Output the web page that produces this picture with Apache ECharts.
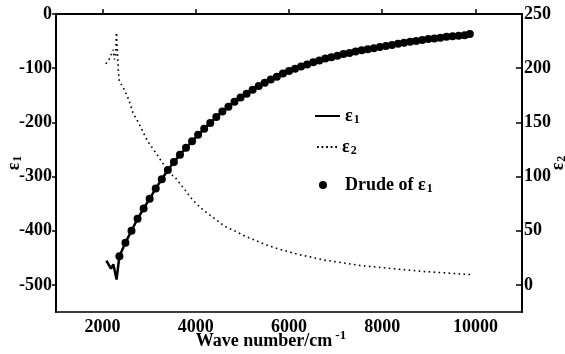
<!DOCTYPE html>
<html><head><meta charset="utf-8">
<script src="https://cdn.jsdelivr.net/npm/echarts@6/dist/echarts.min.js"></script>
<style>html,body{margin:0;padding:0;background:#fff}#c{width:565px;height:354px}</style>
</head><body><div id="c"></div>
<script>
// ---- data ----
const xTicks = [2000, 4000, 6000, 8000, 10000];
const eps1Ticks = [-500, -400, -300, -200, -100, 0];
const eps2Ticks = [0, 50, 100, 150, 200, 250];

// epsilon1 (solid line, left axis)
const eps1X = [2080, 2180, 2230, 2300, 2360, 2490, 2620, 2750, 2880, 3010, 3140, 3270, 3400, 3530, 3660, 3790, 3920, 4050, 4180, 4310, 4440, 4570, 4700, 4830, 4960, 5090, 5220, 5350, 5480, 5610, 5740, 5870, 6000, 6130, 6260, 6390, 6520, 6650, 6780, 6910, 7040, 7170, 7300, 7430, 7560, 7690, 7820, 7950, 8080, 8210, 8340, 8470, 8600, 8730, 8860, 8990, 9120, 9250, 9380, 9510, 9640, 9770, 9900];
const eps1Y = [-455, -470, -462, -490, -447, -422, -400, -378, -359, -341, -322, -305, -288, -273, -260, -247, -235, -223, -212, -201, -190, -180, -171, -162, -154, -147, -140, -133, -127, -121, -116, -110, -105, -101, -97, -93, -89, -86, -82, -80, -77, -74, -72, -69, -67, -65, -63, -61, -59, -57, -55, -53, -51, -50, -48, -46, -45, -44, -42, -41, -40, -39, -37];

// Drude fit of epsilon1 (dots, left axis)
const drudeX = [2360, 2490, 2620, 2750, 2880, 3010, 3140, 3270, 3400, 3530, 3660, 3790, 3920, 4050, 4180, 4310, 4440, 4570, 4700, 4830, 4960, 5090, 5220, 5350, 5480, 5610, 5740, 5870, 6000, 6130, 6260, 6390, 6520, 6650, 6780, 6910, 7040, 7170, 7300, 7430, 7560, 7690, 7820, 7950, 8080, 8210, 8340, 8470, 8600, 8730, 8860, 8990, 9120, 9250, 9380, 9510, 9640, 9770, 9880];
const drudeY = [-447, -422, -400, -378, -359, -341, -322, -305, -288, -273, -260, -247, -235, -223, -212, -201, -190, -180, -171, -162, -154, -147, -140, -133, -127, -121, -116, -110, -105, -101, -97, -93, -89, -86, -82, -80, -77, -74, -72, -69, -67, -65, -63, -61, -59, -57, -55, -53, -51, -50, -48, -46, -45, -44, -42, -41, -40, -39, -37];

// epsilon2 (dotted line, right axis)
const eps2X = [2070, 2150, 2230, 2255, 2280, 2296, 2310, 2325, 2340, 2360, 2400, 2470, 2560, 2650, 2790, 2960, 3140, 3280, 3420, 3560, 3780, 3880, 3990, 4160, 4410, 4620, 4830, 5080, 5290, 5500, 5710, 5960, 6210, 6490, 6740, 6980, 7510, 8220, 8920, 9900];
const eps2Y = [204, 209, 217, 208, 212, 233, 222, 210, 196, 188, 185, 180, 171, 159, 148, 133, 122, 113, 104, 99, 87, 81, 76, 69, 61, 54, 50, 44.5, 41, 37, 34, 31, 28, 25.5, 23, 21.5, 18, 15, 12.3, 9.5];

const seriesNames = ['ε1', 'ε2', 'Drude of ε1'];

// ---- chart ----
const F = 'Liberation Serif';
const zip = (a, b) => a.map((v, i) => [v, b[i]]);
const rich = {
  b: {fontFamily: F, fontWeight: 'bold', fontSize: 18, color: '#000'},
  s: {fontFamily: F, fontWeight: 'bold', fontSize: 12, color: '#000', padding: [8, 0, 0, 1]},
  sp: {width: 13},
  sup: {fontFamily: F, fontWeight: 'bold', fontSize: 13, color: '#000', padding: [0, 0, 12, 3]}
};
function sub(name) {
  const m = name.match(/^(.*ε)(\d)$/);
  return m ? '{b|' + m[1] + '}{s|' + m[2] + '}' : '{b|' + name + '}';
}
const chart = echarts.init(document.getElementById('c'), null, {renderer: 'canvas'});
const axisLbl = {fontFamily: F, fontWeight: 'bold', fontSize: 18, color: '#000', formatter: v => String(v)};
const dotsIcon = 'path://M0,0h2v2h-2z M5,0h2v2h-2z M10,0h2v2h-2z M15,0h2v2h-2z M20,0h2v2h-2z';
chart.setOption({
  animation: false,
  backgroundColor: '#fff',
  grid: {left: 56, right: 43, top: 14, bottom: 42, outerBoundsMode: 'none', containLabel: false,
         show: true, borderColor: '#000', borderWidth: 1.5, backgroundColor: 'transparent'},
  xAxis: {
    type: 'value', min: 1000, max: 11000,
    splitLine: {show: false},
    axisLine: {lineStyle: {color: '#000', width: 2}},
    axisTick: {inside: true, length: 5, lineStyle: {color: '#000', width: 1.5}, customValues: xTicks},
    axisLabel: Object.assign({margin: 6, customValues: xTicks}, axisLbl),
    name: '{b|Wave number/cm}{sup|-1}',
    nameLocation: 'middle', nameGap: 17, nameMoveOverlap: false,
    nameTextStyle: {rich: rich, padding: [0, 36, 0, 0]}
  },
  yAxis: [{
    type: 'value', min: -550, max: 0, position: 'left',
    splitLine: {show: false},
    axisLine: {show: true, lineStyle: {color: '#000', width: 2}},
    axisTick: {inside: false, length: 4, lineStyle: {color: '#000', width: 1.5}, customValues: eps1Ticks},
    axisLabel: Object.assign({margin: 4, customValues: eps1Ticks}, axisLbl),
    name: sub('ε1'), nameLocation: 'middle', nameGap: 32, nameRotate: 90, nameMoveOverlap: false,
    nameTextStyle: {rich: rich}
  }, {
    type: 'value', min: -25, max: 250, position: 'right',
    splitLine: {show: false},
    axisLine: {show: true, lineStyle: {color: '#000', width: 2}},
    axisTick: {inside: true, length: 6, lineStyle: {color: '#000', width: 1.5}, customValues: eps2Ticks},
    axisLabel: Object.assign({margin: 2, customValues: eps2Ticks}, axisLbl),
    name: sub('ε2'), nameLocation: 'middle', nameGap: 26, nameRotate: 90, nameMoveOverlap: false,
    nameTextStyle: {rich: rich}
  }],
  legend: [
    {data: [{name: seriesNames[0], icon: 'rect'}], left: 315, top: 106, padding: 0, itemWidth: 25, itemHeight: 2,
     formatter: n => sub(n), textStyle: {rich: rich, lineHeight: 20}},
    {data: [{name: seriesNames[1], icon: dotsIcon}], left: 317, top: 137, padding: 0, itemWidth: 20, itemHeight: 2,
     formatter: n => sub(n), textStyle: {rich: rich, lineHeight: 20}},
    {data: [{name: seriesNames[2], icon: 'circle'}], left: 319, top: 175, padding: 0, itemWidth: 8, itemHeight: 8,
     formatter: n => '{sp|}' + sub(n), textStyle: {rich: rich, lineHeight: 20}}
  ],
  series: [
    {name: seriesNames[0], type: 'line', yAxisIndex: 0, data: zip(eps1X, eps1Y), symbol: 'none',
     lineStyle: {color: '#000', width: 2.5}, itemStyle: {color: '#000'}, z: 3},
    {name: seriesNames[1], type: 'line', yAxisIndex: 1, data: zip(eps2X, eps2Y), symbol: 'none',
     lineStyle: {color: '#000', width: 1.6, type: [1.6, 3.4]}, itemStyle: {color: '#000'}, z: 2},
    {name: seriesNames[2], type: 'scatter', yAxisIndex: 0, data: zip(drudeX, drudeY), symbol: 'circle', symbolSize: 8,
     itemStyle: {color: '#000', opacity: 1}, z: 4}
  ]
});
</script>
</body></html>
